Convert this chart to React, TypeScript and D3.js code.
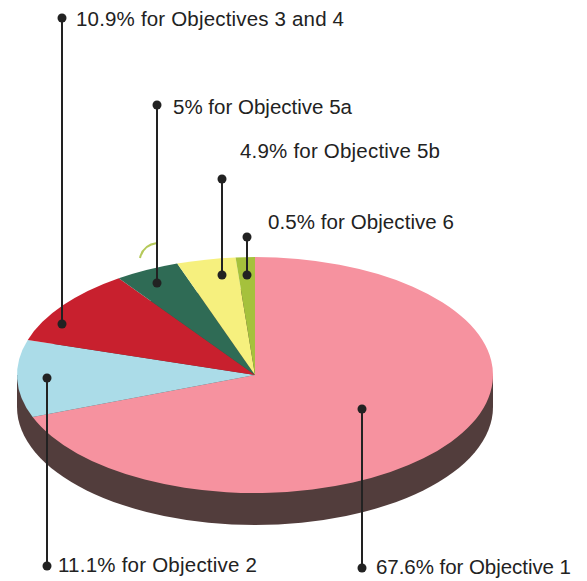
import React from "react";
import * as d3 from "d3";

const objectives = ["Objective 1", "Objective 2", "Objectives 3 and 4", "Objective 5a", "Objective 5b", "Objective 6"];
const percentLabels = ["67.6%", "11.1%", "10.9%", "5%", "4.9%", "0.5%"];
// Slice sizes as drawn in the picture (the artwork is not strictly proportional to its labels)
const drawnShares = [69.2, 10.6, 10.5, 4.4, 4.0, 1.3];
const sliceColors = ["#f6929f", "#abdce8", "#c8202e", "#2f6b55", "#f6f07e", "#a5c13c"];

const WIDTH = 587;
const HEIGHT = 581;
const CX = 255;
const CY = 375;
const RX = 238;
const RY = 118;
const DEPTH = 32;
const SIDE = "#523d3c";
const INK = "#222222";
const FONT = "'Liberation Sans', Arial, sans-serif";

// Leader layout, same order as objectives
const leaders = [
  { x: 362, outerY: 568, innerY: 409, textX: 376, textEnd: 571, textY: 574 },
  { x: 47, outerY: 566, innerY: 378, textX: 58, textEnd: 257, textY: 572 },
  { x: 62, outerY: 18, innerY: 324, textX: 76, textEnd: 344, textY: 26 },
  { x: 157, outerY: 105, innerY: 283, textX: 173, textEnd: 352, textY: 114 },
  { x: 222, outerY: 179, innerY: 275, textX: 240, textEnd: 440, textY: 158 },
  { x: 247, outerY: 237, innerY: 275, textX: 268, textEnd: 454, textY: 229 },
];

export default function App() {
  const pie = d3.pie<number>().sort(null).value((d) => d);
  const arc = d3.arc<d3.PieArcDatum<number>>().innerRadius(0).outerRadius(RX);
  const arcs = pie(drawnShares);
  const squash = RY / RX;

  return (
    <svg
      width={WIDTH}
      height={HEIGHT}
      viewBox={`0 0 ${WIDTH} ${HEIGHT}`}
      style={{ position: "absolute", left: 0, top: 0, background: "#ffffff" }}
    >
      {/* pie wall */}
      <ellipse cx={CX} cy={CY + DEPTH} rx={RX} ry={RY} fill={SIDE} />
      <rect x={CX - RX} y={CY} width={RX * 2} height={DEPTH} fill={SIDE} />

      {/* top face */}
      <g transform={`translate(${CX},${CY}) scale(1,${squash})`}>
        {arcs.map((a, i) => (
          <path key={objectives[i]} d={arc(a) ?? ""} fill={sliceColors[i]} />
        ))}
      </g>

      {/* small stray curve in the artwork */}
      <path d="M140 258 Q143 245 157 243" fill="none" stroke="#b5c95a" strokeWidth={2} />

      {/* leaders and labels */}
      {leaders.map((l, i) => (
        <g key={objectives[i]}>
          <line x1={l.x} x2={l.x} y1={l.outerY} y2={l.innerY} stroke={INK} strokeWidth={2} />
          <circle cx={l.x} cy={l.outerY} r={4.5} fill={INK} />
          <circle cx={l.x} cy={l.innerY} r={4.5} fill={INK} />
          <text
            x={l.textX}
            y={l.textY}
            fontFamily={FONT}
            fontSize={20.5}
            fill={INK}
            textLength={l.textEnd - l.textX}
            lengthAdjust="spacing"
          >
            {`${percentLabels[i]} for ${objectives[i]}`}
          </text>
        </g>
      ))}
    </svg>
  );
}
